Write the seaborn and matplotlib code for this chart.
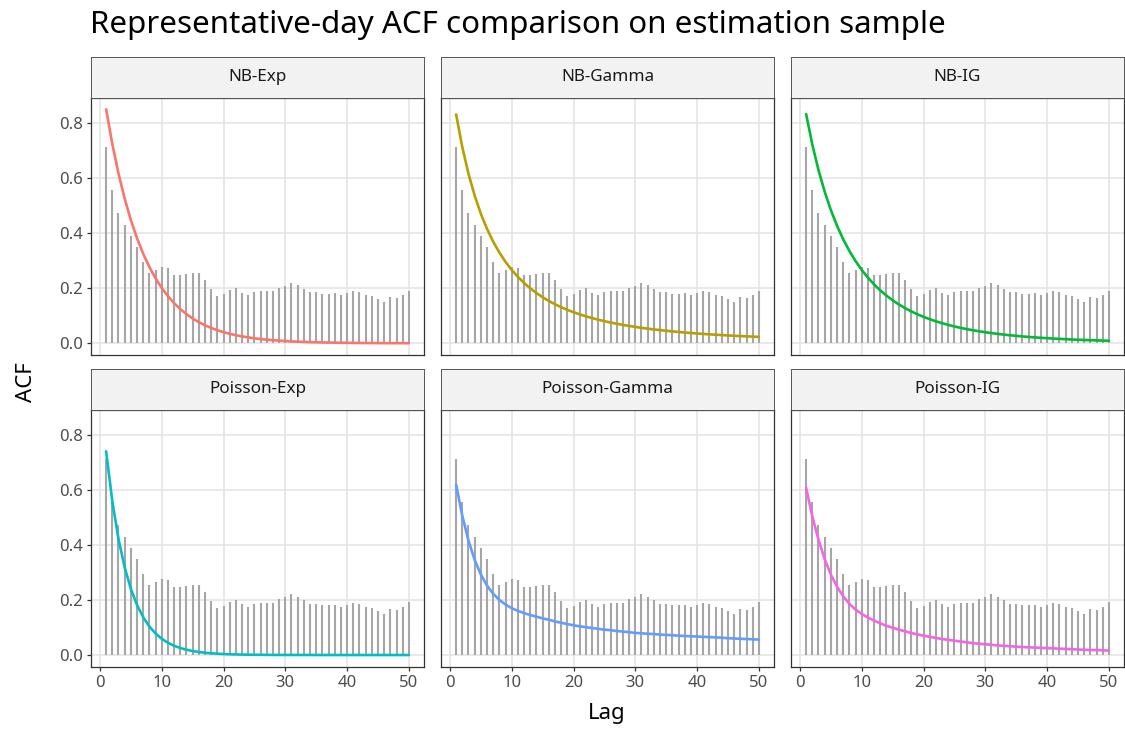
import numpy as np
import pandas as pd
import matplotlib
matplotlib.use("Agg")
import matplotlib.pyplot as plt
import seaborn as sns

sns.set_theme(style="white")
plt.rcParams["font.family"] = ["Noto Sans", "DejaVu Sans"]

# ---------------- data ----------------
lags = list(range(1, 51))

empirical_acf = [0.713, 0.556, 0.471, 0.430, 0.389, 0.350, 0.295, 0.255, 0.265, 0.275,
                 0.274, 0.246, 0.248, 0.251, 0.254, 0.254, 0.228, 0.197, 0.170, 0.179,
                 0.193, 0.199, 0.184, 0.175, 0.185, 0.190, 0.190, 0.190, 0.202, 0.209,
                 0.220, 0.211, 0.198, 0.185, 0.185, 0.180, 0.180, 0.181, 0.175, 0.182,
                 0.190, 0.186, 0.175, 0.172, 0.161, 0.150, 0.167, 0.165, 0.174, 0.191]

nb_exp = [0.848, 0.7225, 0.6156, 0.5245, 0.4468, 0.3807, 0.3244, 0.2764, 0.2355, 0.2006,
          0.1709, 0.1456, 0.1241, 0.1057, 0.0901, 0.0767, 0.0654, 0.0557, 0.0475, 0.0404,
          0.0344, 0.0293, 0.0250, 0.0213, 0.0181, 0.0155, 0.0132, 0.0112, 0.0096, 0.0082,
          0.0069, 0.0059, 0.0050, 0.0043, 0.0037, 0.0031, 0.0027, 0.0023, 0.0019, 0.0016,
          0.0014, 0.0012, 0.0010, 0.0009, 0.0008, 0.0006, 0.0005, 0.0005, 0.0004, 0.0003]

nb_gamma = [0.8295, 0.7108, 0.6144, 0.5353, 0.4696, 0.4147, 0.3683, 0.3288, 0.2950, 0.2658,
            0.2405, 0.2185, 0.1991, 0.1821, 0.1670, 0.1536, 0.1416, 0.1309, 0.1213, 0.1127,
            0.1050, 0.0978, 0.0914, 0.0855, 0.0802, 0.0753, 0.0708, 0.0667, 0.0629, 0.0594,
            0.0561, 0.0531, 0.0503, 0.0478, 0.0454, 0.0432, 0.0411, 0.0391, 0.0373, 0.0356,
            0.0340, 0.0325, 0.0311, 0.0298, 0.0285, 0.0273, 0.0262, 0.0252, 0.0242, 0.0233]

nb_ig = [0.8307, 0.7204, 0.6278, 0.5496, 0.4829, 0.4260, 0.3769, 0.3346, 0.2979, 0.2659,
         0.2380, 0.2134, 0.1918, 0.1728, 0.1560, 0.1410, 0.1277, 0.1159, 0.1053, 0.0959,
         0.0874, 0.0797, 0.0729, 0.0667, 0.0611, 0.0560, 0.0514, 0.0473, 0.0435, 0.0401,
         0.0370, 0.0341, 0.0315, 0.0291, 0.0270, 0.0250, 0.0231, 0.0214, 0.0199, 0.0185,
         0.0172, 0.0160, 0.0149, 0.0138, 0.0129, 0.0120, 0.0112, 0.0105, 0.0098, 0.0092]

poisson_exp = [0.739, 0.5579, 0.4213, 0.3181, 0.2401, 0.1813, 0.1369, 0.1034, 0.0780, 0.0589,
               0.0445, 0.0336, 0.0254, 0.0191, 0.0145, 0.0109, 0.0082, 0.0062, 0.0047, 0.0036,
               0.0027, 0.0020, 0.0015, 0.0012, 0.0009, 0.0007, 0.0005, 0.0004, 0.0003, 0.0002,
               0.0002, 0.0001, 0.0001, 0.0001, 0.0001, 0.0, 0.0, 0.0, 0.0, 0.0,
               0.0, 0.0, 0.0, 0.0, 0.0, 0.0, 0.0, 0.0, 0.0, 0.0]

poisson_gamma = [0.618, 0.505, 0.415, 0.345, 0.292, 0.252, 0.222, 0.200, 0.183, 0.170,
                 0.160, 0.152, 0.145, 0.139, 0.133, 0.128, 0.122, 0.117, 0.112, 0.108,
                 0.104, 0.101, 0.098, 0.095, 0.092, 0.090, 0.087, 0.085, 0.083, 0.080,
                 0.079, 0.077, 0.076, 0.074, 0.073, 0.072, 0.070, 0.069, 0.068, 0.067,
                 0.066, 0.065, 0.064, 0.063, 0.061, 0.060, 0.059, 0.058, 0.057, 0.056]

poisson_ig = [0.606, 0.503, 0.418, 0.348, 0.292, 0.248, 0.213, 0.186, 0.165, 0.149,
              0.136, 0.125, 0.115, 0.106, 0.099, 0.092, 0.086, 0.080, 0.075, 0.070,
              0.066, 0.062, 0.058, 0.055, 0.052, 0.049, 0.046, 0.043, 0.041, 0.039,
              0.037, 0.035, 0.033, 0.032, 0.030, 0.029, 0.028, 0.027, 0.026, 0.025,
              0.024, 0.023, 0.022, 0.021, 0.020, 0.019, 0.018, 0.018, 0.017, 0.016]

models = ["NB-Exp", "NB-Gamma", "NB-IG", "Poisson-Exp", "Poisson-Gamma", "Poisson-IG"]
model_values = [nb_exp, nb_gamma, nb_ig, poisson_exp, poisson_gamma, poisson_ig]
model_colors = ["#F8766D", "#B79F00", "#00BA38", "#00BFC4", "#619CFF", "#F564E3"]

x_ticks = [0, 10, 20, 30, 40, 50]
y_ticks = [0.0, 0.2, 0.4, 0.6, 0.8]
y_tick_labels = ["0.0", "0.2", "0.4", "0.6", "0.8"]

title = "Representative-day ACF comparison on estimation sample"

# ---------------- tidy frame ----------------
df = pd.concat(
    [pd.DataFrame({"model": m, "lag": lags, "acf": v}) for m, v in zip(models, model_values)],
    ignore_index=True,
)

# ---------------- figure ----------------
W, H = 1125, 729
fig = plt.figure(figsize=(W / 100, H / 100), dpi=100)
fig.patch.set_facecolor("white")

col_left = [91, 441, 791]
panel_w = 333
rows = [(56.5, 97.6, 355.0), (368.5, 409.6, 666.7)]  # strip top, panel top, panel bottom

xlim = (-1.45, 52.45)
ylim = (-0.0424, 0.8905)

for i, m in enumerate(models):
    r, c = divmod(i, 3)
    s_top, p_top, p_bot = rows[r]
    left = col_left[c]
    ax = fig.add_axes([left / W, 1 - p_bot / H, panel_w / W, (p_bot - p_top) / H])
    ax.set_facecolor("white")
    ax.set_axisbelow(True)
    ax.vlines(lags, 0, empirical_acf, color="#A6A6A6", lw=1.5, zorder=2)
    sub = df[df["model"] == m]
    sns.lineplot(data=sub, x="lag", y="acf", color=model_colors[i], lw=1.9,
                 ax=ax, legend=False, zorder=3)
    ax.set_xlim(*xlim)
    ax.set_ylim(*ylim)
    ax.set_xticks(x_ticks)
    ax.set_yticks(y_ticks)
    ax.set_xticklabels([str(t) for t in x_ticks])
    ax.set_yticklabels(y_tick_labels)
    ax.grid(True, color="#E5E5E5", lw=1.2, zorder=0)
    for sp in ax.spines.values():
        sp.set_color("#333333")
        sp.set_linewidth(0.9)
        sp.set_zorder(5)
    ax.set_xlabel("")
    ax.set_ylabel("")
    ax.tick_params(axis="both", colors="#333333", labelcolor="#4D4D4D",
                   labelsize=12, length=3.2, width=0.9, pad=2.5)
    if r == 0:
        ax.tick_params(axis="x", bottom=False, labelbottom=False)
    else:
        ax.tick_params(axis="x", bottom=True, labelbottom=True)
    if c != 0:
        ax.tick_params(axis="y", left=False, labelleft=False)
    else:
        ax.tick_params(axis="y", left=True, labelleft=True)

    sax = fig.add_axes([left / W, 1 - p_top / H, panel_w / W, (p_top - s_top) / H])
    sax.set_facecolor("#F2F2F2")
    sax.set_xticks([])
    sax.set_yticks([])
    for sp in sax.spines.values():
        sp.set_color("#555555")
        sp.set_linewidth(0.7)
    sax.text(0.5, 0.5, m, ha="center", va="center", fontsize=12.3, color="#1A1A1A",
             transform=sax.transAxes)

fig.text(90 / W, 1 - 25 / H, title, ha="left", va="center", fontsize=22.5, color="black")
fig.text(27 / W, 1 - 382 / H, "ACF", ha="center", va="center", rotation=90,
         fontsize=16, color="black")
fig.text(607 / W, 1 - 714 / H, "Lag", ha="center", va="center", fontsize=16, color="black")

fig.savefig("out.png", dpi=100, facecolor="white")
